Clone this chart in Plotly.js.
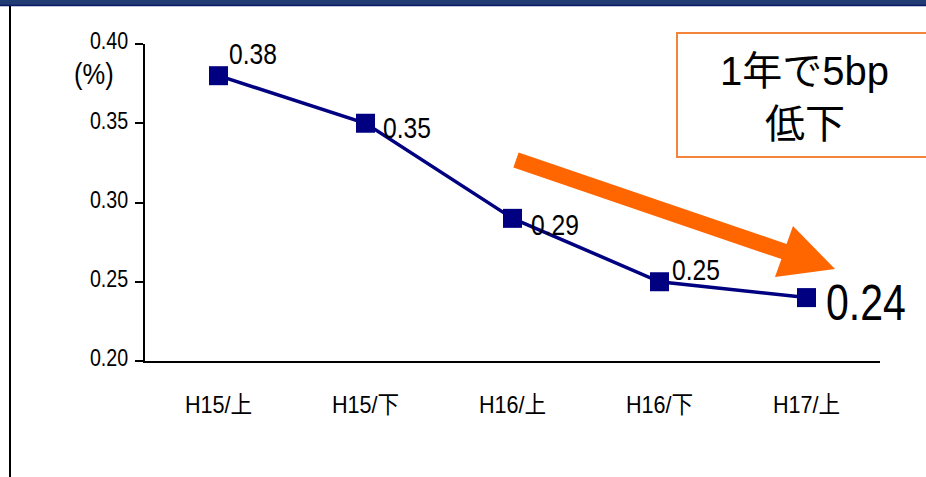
<!DOCTYPE html>
<html>
<head>
<meta charset="utf-8">
<script src="https://cdn.plot.ly/plotly-3.0.1.min.js"></script>
<style>
  html, body { margin: 0; padding: 0; background: #ffffff; }
  #chart { width: 926px; height: 477px; }
</style>
</head>
<body>
<div id="chart"></div>
<script>
// Half-year periods and the rate for each (%)
const categories = ['H15/上', 'H15/下', 'H16/上', 'H16/下', 'H17/上'];
const rates = [0.38, 0.35, 0.29, 0.25, 0.24];
const yTicks = [0.20, 0.25, 0.30, 0.35, 0.40];
const noteLines = ['1年で5bp', '低下'];

// Pixel offsets of each value label from its marker, and label sizes
const labelShift = [[8, 22], [15, -4], [16, -6], [10, 12], [17, -5]];
const labelSize = [30, 30, 30, 30, 50];

const SANS = "'Liberation Sans', 'Noto Sans CJK JP', sans-serif";
const NAVY = '#000080';
const ORANGE = '#FF6600';

// plot area in pixels (used to place the paper-referenced decorations)
const W = 926, H = 477;
const L = 145, R = 880, T = 44, B = 361;
const px = x => (x - L) / (R - L);
const py = y => (B - y) / (B - T);

const trace = {
  type: 'scatter',
  mode: 'lines+markers',
  x: categories,
  y: rates,
  line: { color: NAVY, width: 3.5 },
  marker: { symbol: 'square', size: 19, color: NAVY },
  hoverinfo: 'x+y',
  cliponaxis: false
};

const annotations = rates.map((v, i) => ({
  xref: 'x', yref: 'y',
  x: i, y: v,
  text: v.toFixed(2),
  showarrow: false,
  xanchor: 'left', yanchor: 'middle', align: 'left',
  xshift: labelShift[i][0], yshift: labelShift[i][1],
  font: { family: SANS, size: labelSize[i], color: '#000000' }
}));

// unit label next to the value axis
annotations.push({
  xref: 'paper', yref: 'paper',
  x: px(72), y: py(74),
  text: '(%)', showarrow: false,
  xanchor: 'left', yanchor: 'middle', align: 'left',
  font: { family: SANS, size: 30, color: '#000000' }
});

// callout text
annotations.push({
  xref: 'paper', yref: 'paper',
  x: px(804), y: py(71),
  text: noteLines[0], showarrow: false,
  xanchor: 'center', yanchor: 'middle',
  font: { family: SANS, size: 40, color: '#000000' }
});
annotations.push({
  xref: 'paper', yref: 'paper',
  x: px(805), y: py(124),
  text: noteLines[1], showarrow: false,
  xanchor: 'center', yanchor: 'middle',
  font: { family: SANS, size: 40, color: '#000000' }
});

// big orange downward arrow, as a polygon
const arrowPts = [
  [518.6, 152.4], [786.6, 243.9], [793, 226], [835, 269],
  [775, 277], [781.4, 259.1], [513.4, 167.6]
];
const arrowPath = arrowPts
  .map((p, i) => (i ? 'L' : 'M') + px(p[0]).toFixed(4) + ',' + py(p[1]).toFixed(4))
  .join(' ') + ' Z';

const shapes = [
  // slide header band
  { type: 'rect', xref: 'paper', yref: 'paper', layer: 'above',
    x0: px(0), x1: px(W), y0: py(6), y1: py(0),
    fillcolor: '#213b73', line: { width: 0 } },
  { type: 'line', xref: 'paper', yref: 'paper', layer: 'above',
    x0: px(0), x1: px(W), y0: py(5.5), y1: py(5.5),
    line: { color: '#0b1a66', width: 1.5 } },
  // left frame edge
  { type: 'line', xref: 'paper', yref: 'paper',
    x0: px(10), x1: px(10), y0: py(6), y1: py(H),
    line: { color: '#000000', width: 2 } },
  // callout box
  { type: 'rect', xref: 'paper', yref: 'paper',
    x0: px(677), x1: px(940), y0: py(157), y1: py(33),
    fillcolor: 'rgba(0,0,0,0)', line: { color: '#F4843A', width: 2 } },
  // arrow
  { type: 'path', xref: 'paper', yref: 'paper', path: arrowPath,
    fillcolor: ORANGE, line: { width: 0 } }
];

const layout = {
  width: W, height: H,
  margin: { l: L, r: W - R, t: T, b: H - B },
  paper_bgcolor: '#ffffff',
  plot_bgcolor: '#ffffff',
  showlegend: false,
  xaxis: {
    type: 'category',
    range: [-0.5, categories.length - 0.5],
    showgrid: false, zeroline: false,
    showline: true, linecolor: '#000000', linewidth: 2,
    ticks: '', ticklabelstandoff: 21,
    tickfont: { family: SANS, size: 24, color: '#000000' },
    fixedrange: true
  },
  yaxis: {
    range: [0.20, 0.40],
    tickvals: yTicks,
    ticktext: yTicks.map(v => v.toFixed(2)),
    showgrid: false, zeroline: false,
    showline: true, linecolor: '#000000', linewidth: 2,
    ticks: 'outside', ticklen: 8, tickwidth: 2, tickcolor: '#000000',
    ticklabelstandoff: 2, ticklabelshift: -3,
    tickfont: { family: SANS, size: 24, color: '#000000' },
    fixedrange: true
  },
  annotations: annotations,
  shapes: shapes
};

// Narrow-face look: squeeze glyphs horizontally to a fraction of their width
function condense(selector, k) {
  document.querySelectorAll(selector).forEach(t => {
    const w = t.getComputedTextLength();
    if (w > 0) {
      t.setAttribute('textLength', (w * k).toFixed(1));
      t.setAttribute('lengthAdjust', 'spacingAndGlyphs');
    }
  });
}

Plotly.newPlot('chart', [trace], layout, { displayModeBar: false, staticPlot: true })
  .then(() => {
    condense('#chart .ytick text', 0.82);
    condense('#chart .xtick text', 0.9);
    for (let i = 0; i < rates.length; i++) {
      condense('#chart .annotation[data-index="' + i + '"] text', 0.82);
    }
    condense('#chart .annotation[data-index="' + rates.length + '"] text', 0.85);
  });
</script>
</body>
</html>
